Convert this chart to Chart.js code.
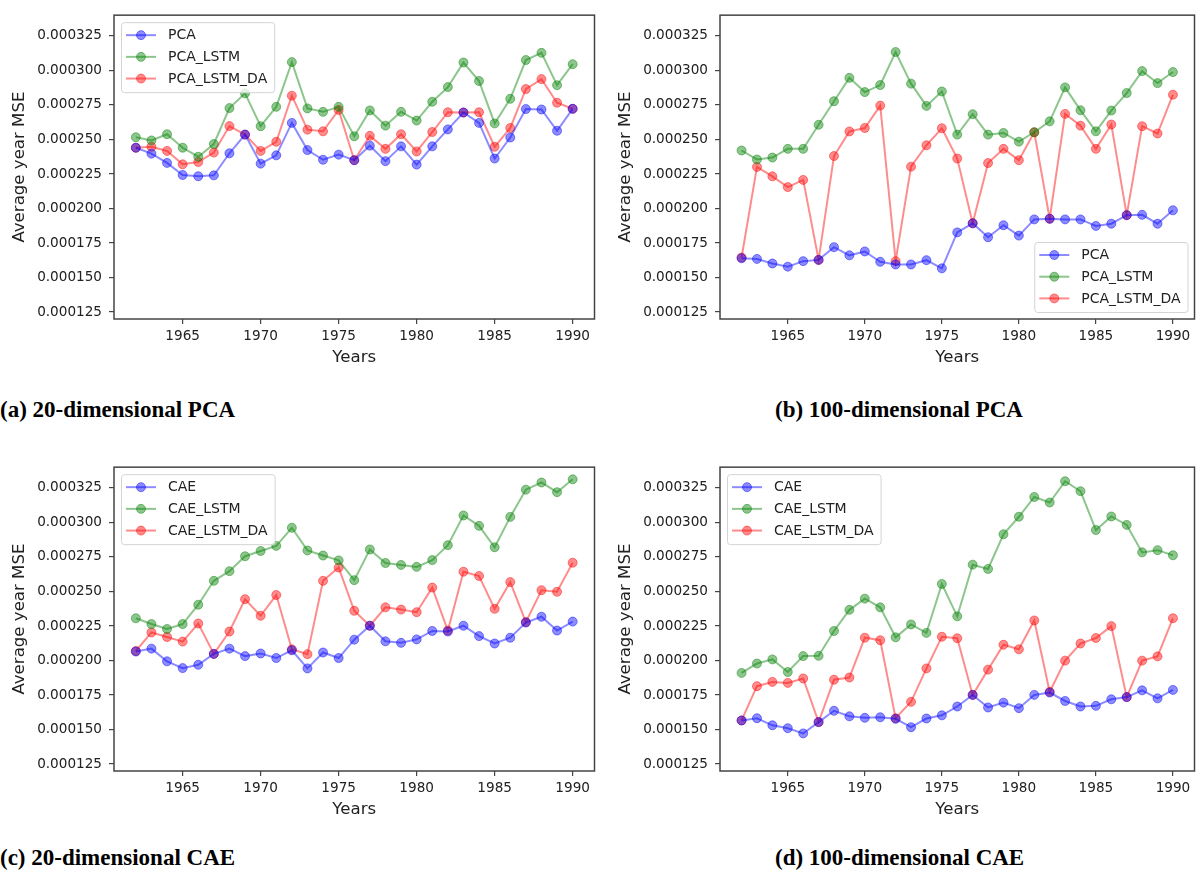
<!DOCTYPE html>
<html>
<head>
<meta charset="utf-8">
<script src="https://cdn.jsdelivr.net/npm/chart.js@4.4.1/dist/chart.umd.min.js"></script>
<style>
  html, body { margin: 0; padding: 0; background: #fff; }
  body { width: 1198px; height: 873px; position: relative; overflow: hidden; }
  canvas { position: absolute; }
  .cap { position: absolute; font: bold 23px "Liberation Serif", "Times New Roman", serif; line-height: 23px; color: #000; white-space: nowrap; }
</style>
</head>
<body>
<canvas id="pa" width="600" height="390" style="left:0;top:0"></canvas>
<canvas id="pb" width="600" height="390" style="left:600px;top:0"></canvas>
<canvas id="pc" width="600" height="390" style="left:0;top:452px"></canvas>
<canvas id="pd" width="600" height="390" style="left:600px;top:452px"></canvas>
<div class="cap" style="left:0;top:398px">(a) 20-dimensional PCA</div>
<div class="cap" style="left:775px;top:398px">(b) 100-dimensional PCA</div>
<div class="cap" style="left:0;top:846px">(c) 20-dimensional CAE</div>
<div class="cap" style="left:775px;top:846px">(d) 100-dimensional CAE</div>
<script>
// --- data ---
const years = [1962, 1963, 1964, 1965, 1966, 1967, 1968, 1969, 1970, 1971, 1972, 1973, 1974, 1975,
  1976, 1977, 1978, 1979, 1980, 1981, 1982, 1983, 1984, 1985, 1986, 1987, 1988, 1989, 1990];
const xTicks = [1965, 1970, 1975, 1980, 1985, 1990];
const yTicks = [0.000125, 0.00015, 0.000175, 0.0002, 0.000225, 0.00025, 0.000275, 0.0003, 0.000325];

// (a) 20-dimensional PCA
const pca20 = [2.440e-4, 2.397e-4, 2.330e-4, 2.243e-4, 2.234e-4, 2.240e-4, 2.400e-4, 2.535e-4, 2.325e-4, 2.385e-4,
  2.620e-4, 2.423e-4, 2.353e-4, 2.390e-4, 2.350e-4, 2.455e-4, 2.343e-4, 2.450e-4, 2.318e-4, 2.450e-4,
  2.573e-4, 2.695e-4, 2.620e-4, 2.362e-4, 2.514e-4, 2.720e-4, 2.717e-4, 2.563e-4, 2.722e-4];
const pca20Lstm = [2.516e-4, 2.493e-4, 2.538e-4, 2.440e-4, 2.375e-4, 2.467e-4, 2.727e-4, 2.834e-4, 2.596e-4, 2.736e-4,
  3.060e-4, 2.725e-4, 2.700e-4, 2.736e-4, 2.523e-4, 2.710e-4, 2.600e-4, 2.700e-4, 2.637e-4, 2.773e-4,
  2.879e-4, 3.057e-4, 2.923e-4, 2.616e-4, 2.794e-4, 3.075e-4, 3.127e-4, 2.893e-4, 3.045e-4];
const pca20LstmDa = [2.440e-4, 2.447e-4, 2.417e-4, 2.320e-4, 2.337e-4, 2.405e-4, 2.597e-4, 2.535e-4, 2.417e-4, 2.483e-4,
  2.817e-4, 2.571e-4, 2.559e-4, 2.714e-4, 2.350e-4, 2.526e-4, 2.432e-4, 2.538e-4, 2.413e-4, 2.554e-4,
  2.697e-4, 2.695e-4, 2.697e-4, 2.447e-4, 2.583e-4, 2.865e-4, 2.937e-4, 2.766e-4, 2.722e-4];

// (b) 100-dimensional PCA
const pca100 = [1.640e-4, 1.635e-4, 1.602e-4, 1.579e-4, 1.619e-4, 1.628e-4, 1.720e-4, 1.661e-4, 1.689e-4, 1.614e-4,
  1.595e-4, 1.595e-4, 1.626e-4, 1.567e-4, 1.827e-4, 1.893e-4, 1.792e-4, 1.879e-4, 1.804e-4, 1.921e-4,
  1.926e-4, 1.921e-4, 1.921e-4, 1.874e-4, 1.890e-4, 1.952e-4, 1.954e-4, 1.890e-4, 1.987e-4];
const pca100Lstm = [2.420e-4, 2.355e-4, 2.369e-4, 2.432e-4, 2.432e-4, 2.606e-4, 2.777e-4, 2.946e-4, 2.843e-4, 2.894e-4,
  3.133e-4, 2.904e-4, 2.743e-4, 2.847e-4, 2.535e-4, 2.683e-4, 2.535e-4, 2.547e-4, 2.484e-4, 2.552e-4,
  2.631e-4, 2.877e-4, 2.711e-4, 2.559e-4, 2.709e-4, 2.836e-4, 2.995e-4, 2.908e-4, 2.988e-4];
const pca100LstmDa = [1.645e-4, 2.301e-4, 2.233e-4, 2.155e-4, 2.207e-4, 1.628e-4, 2.380e-4, 2.558e-4, 2.583e-4, 2.745e-4,
  1.619e-4, 2.303e-4, 2.458e-4, 2.581e-4, 2.362e-4, 1.893e-4, 2.329e-4, 2.432e-4, 2.350e-4, 2.552e-4,
  1.926e-4, 2.685e-4, 2.600e-4, 2.432e-4, 2.608e-4, 1.952e-4, 2.596e-4, 2.543e-4, 2.824e-4];

// (c) 20-dimensional CAE
const cae20 = [2.065e-4, 2.086e-4, 1.994e-4, 1.945e-4, 1.969e-4, 2.048e-4, 2.086e-4, 2.032e-4, 2.051e-4, 2.018e-4,
  2.074e-4, 1.943e-4, 2.058e-4, 2.018e-4, 2.151e-4, 2.252e-4, 2.139e-4, 2.128e-4, 2.153e-4, 2.214e-4,
  2.210e-4, 2.252e-4, 2.177e-4, 2.123e-4, 2.165e-4, 2.275e-4, 2.317e-4, 2.217e-4, 2.282e-4];
const cae20Lstm = [2.306e-4, 2.264e-4, 2.228e-4, 2.264e-4, 2.404e-4, 2.577e-4, 2.647e-4, 2.755e-4, 2.793e-4, 2.830e-4,
  2.961e-4, 2.797e-4, 2.760e-4, 2.725e-4, 2.582e-4, 2.804e-4, 2.706e-4, 2.692e-4, 2.678e-4, 2.727e-4,
  2.835e-4, 3.050e-4, 2.975e-4, 2.820e-4, 3.040e-4, 3.237e-4, 3.289e-4, 3.219e-4, 3.312e-4];
const cae20LstmDa = [2.069e-4, 2.203e-4, 2.170e-4, 2.137e-4, 2.268e-4, 2.048e-4, 2.210e-4, 2.444e-4, 2.324e-4, 2.474e-4,
  2.081e-4, 2.046e-4, 2.577e-4, 2.673e-4, 2.360e-4, 2.252e-4, 2.385e-4, 2.369e-4, 2.350e-4, 2.528e-4,
  2.217e-4, 2.643e-4, 2.612e-4, 2.374e-4, 2.568e-4, 2.278e-4, 2.509e-4, 2.498e-4, 2.708e-4];

// (d) 100-dimensional CAE
const cae100 = [1.566e-4, 1.582e-4, 1.531e-4, 1.510e-4, 1.472e-4, 1.554e-4, 1.636e-4, 1.596e-4, 1.585e-4, 1.589e-4,
  1.578e-4, 1.517e-4, 1.580e-4, 1.603e-4, 1.667e-4, 1.751e-4, 1.660e-4, 1.695e-4, 1.655e-4, 1.751e-4,
  1.768e-4, 1.707e-4, 1.667e-4, 1.672e-4, 1.719e-4, 1.735e-4, 1.784e-4, 1.726e-4, 1.787e-4];
const cae100Lstm = [1.910e-4, 1.978e-4, 2.008e-4, 1.917e-4, 2.032e-4, 2.034e-4, 2.214e-4, 2.367e-4, 2.448e-4, 2.385e-4,
  2.168e-4, 2.261e-4, 2.200e-4, 2.554e-4, 2.320e-4, 2.694e-4, 2.663e-4, 2.914e-4, 3.041e-4, 3.184e-4,
  3.144e-4, 3.298e-4, 3.226e-4, 2.945e-4, 3.043e-4, 2.982e-4, 2.783e-4, 2.799e-4, 2.762e-4];
const cae100LstmDa = [1.566e-4, 1.814e-4, 1.845e-4, 1.838e-4, 1.870e-4, 1.554e-4, 1.861e-4, 1.877e-4, 2.165e-4, 2.147e-4,
  1.582e-4, 1.701e-4, 1.943e-4, 2.172e-4, 2.161e-4, 1.751e-4, 1.934e-4, 2.114e-4, 2.081e-4, 2.290e-4,
  1.773e-4, 1.999e-4, 2.123e-4, 2.163e-4, 2.249e-4, 1.735e-4, 1.999e-4, 2.030e-4, 2.306e-4];

const pcaNames = ['PCA', 'PCA_LSTM', 'PCA_LSTM_DA'];
const caeNames = ['CAE', 'CAE_LSTM', 'CAE_LSTM_DA'];

// --- styling ---
const FONT = '"DejaVu Sans", sans-serif';
const rgb = ['0,0,255', '0,128,0', '255,0,0'];
const ALPHA = 0.45;
const CANVAS_H = 390;
const PLOT_BOTTOM = 319;

// axes box on all four sides
const frame = {
    id: 'frame',
    afterDraw(chart) {
        const { ctx, chartArea: a } = chart;
        ctx.save();
        ctx.strokeStyle = '#444';
        ctx.lineWidth = 1.5;
        ctx.strokeRect(a.left, a.top, a.right - a.left, a.bottom - a.top);
        ctx.restore();
    }
};

// matplotlib-like legend box inside the axes
const boxLegend = {
    id: 'boxLegend',
    afterDraw(chart, args, opts) {
        const { ctx, chartArea: a } = chart;
        const sets = chart.data.datasets;
        ctx.save();
        ctx.font = '14px ' + FONT;
        const tw = Math.max(...sets.map(d => ctx.measureText(d.label).width));
        const w = 47 + tw + 7, h = 70;
        let x0, y0;
        if (opts.corner === 'br') { x0 = a.right - 7 - w; y0 = a.bottom - 7 - h; }
        else { x0 = a.left + 7; y0 = a.top + 7; }

        ctx.beginPath();
        ctx.roundRect(x0 + 0.5, y0 + 0.5, w, h, 3);
        ctx.fillStyle = 'rgba(255,255,255,0.8)';
        ctx.fill();
        ctx.strokeStyle = '#d4d4d4';
        ctx.lineWidth = 1;
        ctx.stroke();

        sets.forEach((d, i) => {
            const cy = y0 + 13 + i * 21.7;
            ctx.strokeStyle = d.borderColor;
            ctx.lineWidth = 2;
            ctx.beginPath(); ctx.moveTo(x0 + 5, cy); ctx.lineTo(x0 + 35, cy); ctx.stroke();
            ctx.beginPath(); ctx.arc(x0 + 20, cy, 4.5, 0, Math.PI * 2);
            ctx.fillStyle = d.pointBackgroundColor; ctx.fill();
            ctx.lineWidth = 1; ctx.strokeStyle = d.pointBorderColor; ctx.stroke();
            ctx.fillStyle = '#222';
            ctx.textBaseline = 'middle';
            ctx.fillText(d.label, x0 + 47, cy + 0.5);
        });
        ctx.restore();
    }
};

function makePanel(id, names, series, o) {
    const datasets = series.map((vals, i) => {
        const c = `rgba(${rgb[i]},${ALPHA})`;
        return {
            label: names[i],
            data: years.map((yr, k) => ({ x: yr, y: vals[k] })),
            borderColor: c,
            backgroundColor: c,
            pointBackgroundColor: c,
            pointBorderColor: c,
            borderWidth: 2,
            pointRadius: 4.5,
            pointBorderWidth: 1,
            tension: 0
        };
    });

    const tickFont = { family: FONT, size: 13.6 };
    const titleFont = { family: FONT, size: 16.6, lineHeight: 1 };

    new Chart(document.getElementById(id), {
        type: 'line',
        data: { datasets },
        options: {
            responsive: false,
            animation: false,
            devicePixelRatio: 1,
            layout: { padding: { top: 6, right: o.padRight, left: 0, bottom: 0 } },
            plugins: {
                legend: { display: false },
                tooltip: { enabled: false },
                boxLegend: { corner: o.corner }
            },
            scales: {
                x: {
                    type: 'linear',
                    min: 1960.6,
                    max: 1991.4,
                    afterBuildTicks: s => { s.ticks = xTicks.map(v => ({ value: v })); },
                    afterFit: s => { s.height = CANVAS_H - PLOT_BOTTOM; },
                    grid: { drawOnChartArea: false, drawTicks: true, tickLength: 5, color: '#444', lineWidth: 1.2 },
                    border: { display: false },
                    ticks: { padding: 4, color: '#222', font: tickFont, maxRotation: 0, autoSkip: false, callback: v => String(v) },
                    title: { display: true, text: 'Years', color: '#222', font: titleFont, padding: { top: 0, bottom: 23.7 } }
                },
                y: {
                    min: 0.00012,
                    max: 0.00034,
                    afterBuildTicks: s => { s.ticks = yTicks.map(v => ({ value: v })); },
                    afterFit: s => { s.width = o.axisLeft; },
                    grid: { drawOnChartArea: false, drawTicks: true, tickLength: 5, color: '#444', lineWidth: 1.2 },
                    border: { display: false },
                    ticks: { padding: 7, color: '#222', font: tickFont, autoSkip: false, callback: v => v.toFixed(6) },
                    title: { display: true, text: 'Average year MSE', color: '#222', font: titleFont, padding: { top: o.axisLeft - 94.5 - 8.3, bottom: 0 } }
                }
            }
        },
        plugins: [frame, boxLegend]
    });
}

makePanel('pa', pcaNames, [pca20, pca20Lstm, pca20LstmDa], { axisLeft: 114, padRight: 2, corner: 'tl' });
makePanel('pb', pcaNames, [pca100, pca100Lstm, pca100LstmDa], { axisLeft: 120, padRight: 0.5, corner: 'br' });
makePanel('pc', caeNames, [cae20, cae20Lstm, cae20LstmDa], { axisLeft: 114, padRight: 2, corner: 'tl' });
makePanel('pd', caeNames, [cae100, cae100Lstm, cae100LstmDa], { axisLeft: 120, padRight: 0.5, corner: 'tl' });
</script>
</body>
</html>
